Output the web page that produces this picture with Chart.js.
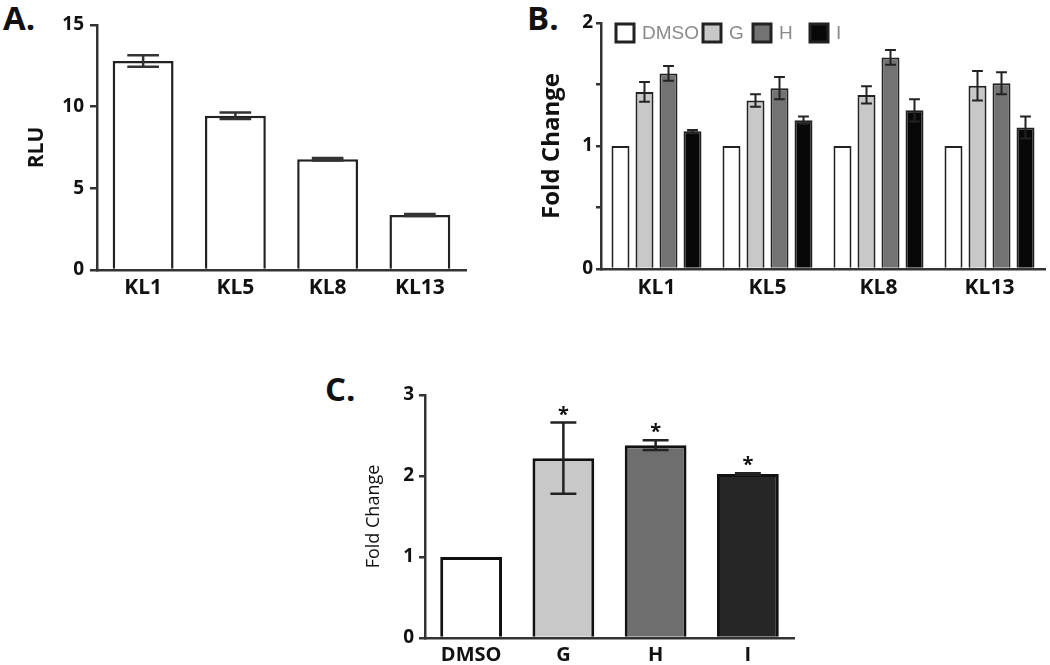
<!DOCTYPE html>
<html><head><meta charset="utf-8">
<script src="https://cdn.jsdelivr.net/npm/chart.js@4.4.0/dist/chart.umd.min.js"></script>
<style>
body{margin:0;background:#fff;width:1050px;height:665px;position:relative;overflow:hidden;}
canvas{position:absolute;}
.lab{position:absolute;font-weight:700;font-size:33px;line-height:1;color:#111;font-family:'Open Sans',sans-serif;}
</style></head><body>
<div class="lab" style="left:3px;top:1px">A.</div>
<div class="lab" style="left:527px;top:1px">B.</div>
<div class="lab" style="left:325px;top:372px">C.</div>
<canvas id="ca" width="480" height="310" style="left:0;top:0"></canvas>
<canvas id="cb" width="550" height="310" style="left:500px;top:0"></canvas>
<canvas id="cc" width="500" height="295" style="left:320px;top:370px"></canvas>
<script>
// ---- Data ----
const cellLines = ['KL1', 'KL5', 'KL8', 'KL13'];
const rlu = [12.8, 9.45, 6.78, 3.37];
const rluErr = [0.35, 0.2, 0.08, 0.06];

const treatments = ['DMSO', 'G', 'H', 'I'];
const foldDMSO = [1, 1, 1, 1];
const foldG = [1.44, 1.37, 1.415, 1.49];
const foldH = [1.59, 1.47, 1.72, 1.51];
const foldI = [1.12, 1.21, 1.29, 1.15];
const errDMSO = [0, 0, 0, 0];
const errG = [0.08, 0.05, 0.07, 0.12];
const errH = [0.06, 0.09, 0.06, 0.09];
const errI = [0.01, 0.03, 0.09, 0.09];

const pooledFold = [1.0, 2.22, 2.38, 2.025];
const pooledErr = [0, 0.44, 0.06, 0.01];
const pooledSig = ['', '*', '*', '*'];

const ticksA = [0, 5, 10, 15];
const ticksB = [0, 1, 2];
const ticksC = [0, 1, 2, 3];

const colDMSO = '#ffffff', colG = '#c8c8c8', colH = '#737373', colI = '#080808';
const colsC = ['#ffffff', '#c8c8c8', '#6e6e6e', '#262626'];

Chart.defaults.font.family = "'Open Sans', sans-serif";
Chart.defaults.color = '#111';

// ---- Plugins ----
const errorBars = {
  id: 'errorBars',
  afterDatasetsDraw(chart, args, opts) {
    const ctx = chart.ctx, y = chart.scales.y;
    chart.data.datasets.forEach((ds, di) => {
      if (!ds.errors) return;
      const meta = chart.getDatasetMeta(di);
      meta.data.forEach((bar, i) => {
        const e = ds.errors[i];
        if (!e) return;
        const v = ds.data[i];
        const yt = y.getPixelForValue(v + e), yb = y.getPixelForValue(v - e);
        const hw = bar.width * opts.capRatio / 2;
        ctx.save();
        ctx.strokeStyle = opts.color; ctx.lineWidth = opts.width;
        ctx.beginPath();
        ctx.moveTo(bar.x, yt); ctx.lineTo(bar.x, yb);
        ctx.moveTo(bar.x - hw, yt); ctx.lineTo(bar.x + hw, yt);
        ctx.moveTo(bar.x - hw, yb); ctx.lineTo(bar.x + hw, yb);
        ctx.stroke();
        ctx.restore();
      });
    });
  }
};

const sigStars = {
  id: 'sigStars',
  afterDatasetsDraw(chart, args, opts) {
    if (!opts || !opts.marks) return;
    const ctx = chart.ctx, y = chart.scales.y;
    const ds = chart.data.datasets[0];
    const meta = chart.getDatasetMeta(0);
    ctx.save();
    ctx.font = 'bold ' + opts.size + "px 'Open Sans', sans-serif";
    ctx.fillStyle = '#111'; ctx.textAlign = 'center'; ctx.textBaseline = 'alphabetic';
    meta.data.forEach((bar, i) => {
      const m = opts.marks[i];
      if (!m) return;
      const top = y.getPixelForValue(ds.data[i] + (ds.errors ? ds.errors[i] : 0));
      ctx.fillText(m, bar.x, top - opts.gap + 0.55 * opts.size);
    });
    ctx.restore();
  }
};

const boxLegend = {
  id: 'boxLegend',
  afterDraw(chart, args, opts) {
    if (!opts || !opts.offsets) return;
    const ctx = chart.ctx, a = chart.chartArea;
    ctx.save();
    ctx.font = opts.size + "px 'Liberation Sans', Arial, sans-serif";
    ctx.textBaseline = 'middle'; ctx.textAlign = 'left';
    chart.data.datasets.forEach((ds, i) => {
      const x = a.left + opts.offsets[i];
      const yt = a.top + opts.top;
      ctx.fillStyle = ds.backgroundColor;
      ctx.fillRect(x, yt, opts.box, opts.box);
      ctx.strokeStyle = '#222'; ctx.lineWidth = 3;
      ctx.strokeRect(x, yt, opts.box, opts.box);
      ctx.fillStyle = '#8a8a8a';
      ctx.fillText(ds.label, x + opts.box + 8, yt + opts.box / 2 + 1);
    });
    ctx.restore();
  }
};

function yAxis(min, max, step, tickVals, width, title, titleFont, titlePad, tickFont, tickLen, tickPad) {
  return {
    min: min, max: max,
    afterFit(s) { s.width = width; },
    ticks: {
      stepSize: step, padding: tickPad,
      font: tickFont, color: '#111',
      callback: v => tickVals.includes(v) ? String(v) : ''
    },
    grid: { display: true, drawOnChartArea: false, drawTicks: true, tickLength: tickLen, color: '#333', lineWidth: 2.5 },
    border: { display: true, color: '#333', width: 2.5 },
    title: { display: true, text: title, font: titleFont, color: '#111', padding: { top: titlePad, bottom: 0 } }
  };
}
function xAxis(height, font, pad) {
  return {
    afterFit(s) { s.height = height; },
    ticks: { font: font, color: '#111', padding: pad, maxRotation: 0 },
    grid: { display: false, drawTicks: false },
    border: { display: true, color: '#333', width: 2.5 }
  };
}

// ---- Panel A ----
new Chart(document.getElementById('ca'), {
  type: 'bar',
  data: {
    labels: cellLines,
    datasets: [{ label: 'RLU', data: rlu, errors: rluErr, backgroundColor: '#ffffff', borderColor: '#222', borderWidth: 2.5,
      barPercentage: 0.66, categoryPercentage: 1 }]
  },
  options: {
    responsive: false, animation: false, devicePixelRatio: 1,
    layout: { padding: { left: 0, top: 25, right: 14, bottom: 0 } },
    plugins: { legend: { display: false }, tooltip: { enabled: false },
      errorBars: { capRatio: 0.52, color: '#333', width: 2.5 } },
    scales: {
      x: xAxis(40, { size: 21, weight: 'bold' }, 5),
      y: yAxis(0, 15, 5, ticksA, 97, 'RLU', { size: 21, weight: 'bold' }, 24, { size: 19, weight: 'bold' }, 7, 6)
    }
  },
  plugins: [errorBars]
});

// ---- Panel B ----
function dsB(label, data, err, color) {
  return { label: label, data: data, errors: err, backgroundColor: color, borderColor: '#222', borderWidth: 2,
    barPercentage: 0.75, categoryPercentage: 0.865 };
}
new Chart(document.getElementById('cb'), {
  type: 'bar',
  data: {
    labels: cellLines,
    datasets: [
      dsB(treatments[0], foldDMSO, errDMSO, colDMSO),
      dsB(treatments[1], foldG, errG, colG),
      dsB(treatments[2], foldH, errH, colH),
      dsB(treatments[3], foldI, errI, colI)
    ]
  },
  options: {
    responsive: false, animation: false, devicePixelRatio: 1,
    layout: { padding: { left: 0, top: 23, right: 5, bottom: 0 } },
    plugins: { legend: { display: false }, tooltip: { enabled: false },
      errorBars: { capRatio: 0.6, color: '#222', width: 2 },
      boxLegend: { offsets: [15, 102, 152, 209], top: 1, box: 18, size: 19 } },
    scales: {
      x: xAxis(41, { size: 21, weight: 'bold' }, 6),
      y: yAxis(0, 2, 0.5, ticksB, 101, 'Fold Change', { size: 24, weight: 'bold' }, 38, { size: 19, weight: 'bold' }, 5, 3)
    }
  },
  plugins: [errorBars, boxLegend]
});

// ---- Panel C ----
new Chart(document.getElementById('cc'), {
  type: 'bar',
  data: {
    labels: treatments,
    datasets: [{ label: 'Fold Change', data: pooledFold, errors: pooledErr, backgroundColor: colsC, borderColor: '#111', borderWidth: 3,
      barPercentage: 0.67, categoryPercentage: 1 }]
  },
  options: {
    responsive: false, animation: false, devicePixelRatio: 1,
    layout: { padding: { left: 0, top: 25, right: 26, bottom: 0 } },
    plugins: { legend: { display: false }, tooltip: { enabled: false },
      errorBars: { capRatio: 0.42, color: '#222', width: 2.5 },
      sigStars: { marks: pooledSig, size: 20, gap: 13 } },
    scales: {
      x: xAxis(27, { size: 20, weight: 'bold' }, 5),
      y: yAxis(0, 3, 1, ticksC, 105, 'Fold Change', { size: 18, weight: 'normal' }, 43, { size: 19, weight: 'bold' }, 6, 5)
    }
  },
  plugins: [errorBars, sigStars]
});
</script>
</body></html>
